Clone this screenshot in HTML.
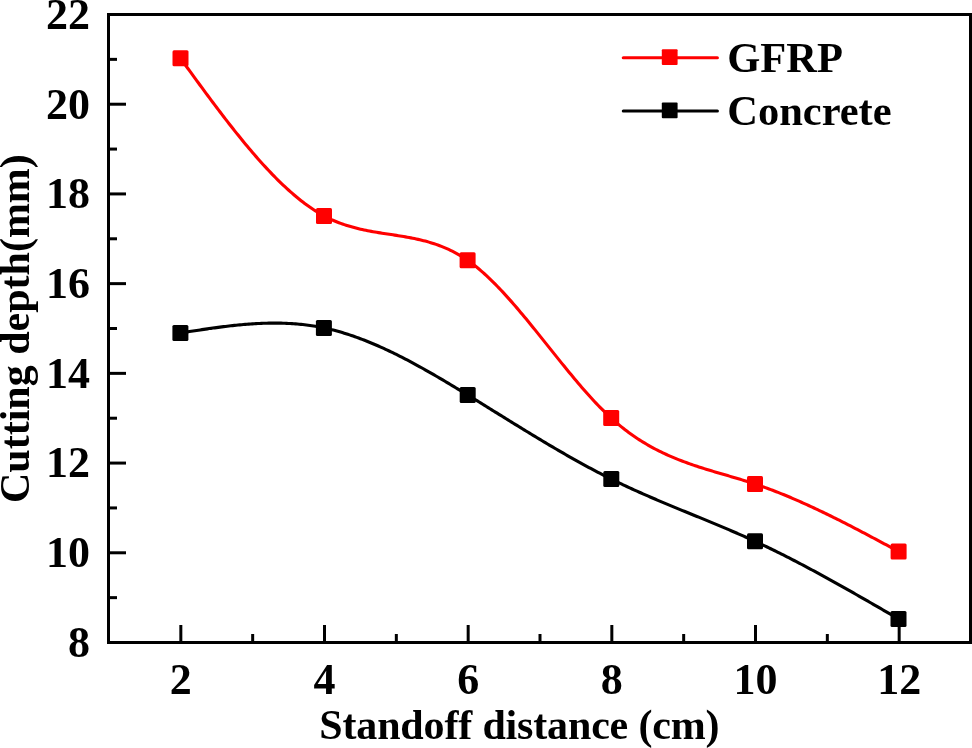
<!DOCTYPE html>
<html><head><meta charset="utf-8"><style>
html,body{margin:0;padding:0;background:#fff;}
body{width:972px;height:748px;overflow:hidden;}
svg{display:block;will-change:transform;}
text{font-family:"Liberation Serif",serif;font-weight:bold;fill:#000;}
</style></head><body>
<svg width="972" height="748" viewBox="0 0 972 748">
<rect x="0" y="0" width="972" height="748" fill="#fff"/>
<path d="M180.50,58.30 L182.30,60.78 L184.10,63.26 L185.90,65.74 L187.70,68.22 L189.50,70.70 L191.30,73.17 L193.10,75.64 L194.90,78.11 L196.70,80.57 L198.50,83.03 L200.30,85.49 L202.10,87.94 L203.90,90.38 L205.70,92.82 L207.50,95.25 L209.30,97.67 L211.10,100.09 L212.90,102.50 L214.70,104.90 L216.49,107.29 L218.29,109.67 L220.09,112.04 L221.89,114.40 L223.69,116.75 L225.49,119.09 L227.29,121.41 L229.09,123.73 L230.89,126.03 L232.69,128.32 L234.49,130.59 L236.29,132.85 L238.09,135.09 L239.89,137.32 L241.69,139.54 L243.49,141.74 L245.29,143.92 L247.09,146.08 L248.89,148.23 L250.69,150.36 L252.49,152.46 L254.29,154.56 L256.09,156.63 L257.89,158.68 L259.69,160.71 L261.49,162.72 L263.29,164.71 L265.09,166.67 L266.89,168.62 L268.69,170.54 L270.49,172.43 L272.29,174.31 L274.09,176.16 L275.89,177.98 L277.69,179.78 L279.49,181.56 L281.29,183.30 L283.09,185.03 L284.89,186.72 L286.69,188.39 L288.48,190.02 L290.28,191.63 L292.08,193.21 L293.88,194.77 L295.68,196.29 L297.48,197.78 L299.28,199.24 L301.08,200.67 L302.88,202.06 L304.68,203.43 L306.48,204.76 L308.28,206.05 L310.08,207.32 L311.88,208.55 L313.68,209.74 L315.48,210.90 L317.28,212.03 L319.08,213.12 L320.88,214.17 L322.68,215.18 L324.48,216.16 L326.28,217.10 L328.08,218.00 L329.88,218.86 L331.68,219.70 L333.48,220.49 L335.28,221.26 L337.08,222.00 L338.88,222.70 L340.68,223.37 L342.48,224.02 L344.28,224.64 L346.08,225.23 L347.88,225.80 L349.68,226.34 L351.48,226.86 L353.28,227.36 L355.08,227.84 L356.88,228.30 L358.68,228.74 L360.47,229.16 L362.27,229.56 L364.07,229.95 L365.87,230.32 L367.67,230.68 L369.47,231.03 L371.27,231.36 L373.07,231.68 L374.87,232.00 L376.67,232.30 L378.47,232.60 L380.27,232.89 L382.07,233.18 L383.87,233.46 L385.67,233.74 L387.47,234.02 L389.27,234.29 L391.07,234.57 L392.87,234.84 L394.67,235.12 L396.47,235.40 L398.27,235.68 L400.07,235.97 L401.87,236.27 L403.67,236.57 L405.47,236.88 L407.27,237.20 L409.07,237.53 L410.87,237.87 L412.67,238.22 L414.47,238.59 L416.27,238.97 L418.07,239.37 L419.87,239.78 L421.67,240.21 L423.47,240.66 L425.27,241.12 L427.07,241.61 L428.87,242.12 L430.67,242.65 L432.46,243.21 L434.26,243.79 L436.06,244.40 L437.86,245.03 L439.66,245.69 L441.46,246.38 L443.26,247.10 L445.06,247.85 L446.86,248.63 L448.66,249.45 L450.46,250.30 L452.26,251.19 L454.06,252.11 L455.86,253.06 L457.66,254.06 L459.46,255.10 L461.26,256.17 L463.06,257.29 L464.86,258.45 L466.66,259.65 L468.46,260.90 L470.26,262.19 L472.06,263.53 L473.86,264.91 L475.66,266.33 L477.46,267.79 L479.26,269.29 L481.06,270.83 L482.86,272.40 L484.66,274.01 L486.46,275.66 L488.26,277.34 L490.06,279.06 L491.86,280.81 L493.66,282.59 L495.46,284.40 L497.26,286.24 L499.06,288.11 L500.86,290.00 L502.66,291.92 L504.45,293.87 L506.25,295.84 L508.05,297.84 L509.85,299.86 L511.65,301.89 L513.45,303.95 L515.25,306.03 L517.05,308.13 L518.85,310.24 L520.65,312.38 L522.45,314.52 L524.25,316.68 L526.05,318.86 L527.85,321.04 L529.65,323.24 L531.45,325.45 L533.25,327.67 L535.05,329.89 L536.85,332.12 L538.65,334.36 L540.45,336.61 L542.25,338.86 L544.05,341.11 L545.85,343.37 L547.65,345.62 L549.45,347.88 L551.25,350.13 L553.05,352.39 L554.85,354.64 L556.65,356.89 L558.45,359.13 L560.25,361.37 L562.05,363.60 L563.85,365.82 L565.65,368.03 L567.45,370.24 L569.25,372.43 L571.05,374.61 L572.85,376.78 L574.65,378.93 L576.44,381.07 L578.24,383.20 L580.04,385.31 L581.84,387.40 L583.64,389.47 L585.44,391.52 L587.24,393.55 L589.04,395.56 L590.84,397.54 L592.64,399.50 L594.44,401.44 L596.24,403.35 L598.04,405.24 L599.84,407.09 L601.64,408.92 L603.44,410.72 L605.24,412.48 L607.04,414.22 L608.84,415.92 L610.64,417.59 L612.44,419.22 L614.24,420.82 L616.04,422.38 L617.84,423.91 L619.64,425.41 L621.44,426.88 L623.24,428.31 L625.04,429.71 L626.84,431.08 L628.64,432.42 L630.44,433.73 L632.24,435.01 L634.04,436.26 L635.84,437.49 L637.64,438.68 L639.44,439.85 L641.24,441.00 L643.04,442.11 L644.84,443.20 L646.64,444.27 L648.43,445.31 L650.23,446.33 L652.03,447.33 L653.83,448.30 L655.63,449.25 L657.43,450.18 L659.23,451.09 L661.03,451.98 L662.83,452.85 L664.63,453.69 L666.43,454.52 L668.23,455.34 L670.03,456.13 L671.83,456.91 L673.63,457.67 L675.43,458.42 L677.23,459.14 L679.03,459.86 L680.83,460.56 L682.63,461.25 L684.43,461.92 L686.23,462.58 L688.03,463.23 L689.83,463.87 L691.63,464.50 L693.43,465.11 L695.23,465.72 L697.03,466.32 L698.83,466.91 L700.63,467.49 L702.43,468.06 L704.23,468.63 L706.03,469.18 L707.83,469.74 L709.63,470.29 L711.43,470.83 L713.23,471.37 L715.03,471.90 L716.83,472.44 L718.63,472.97 L720.42,473.49 L722.22,474.02 L724.02,474.55 L725.82,475.07 L727.62,475.60 L729.42,476.12 L731.22,476.65 L733.02,477.18 L734.82,477.71 L736.62,478.24 L738.42,478.78 L740.22,479.32 L742.02,479.87 L743.82,480.42 L745.62,480.98 L747.42,481.54 L749.22,482.11 L751.02,482.69 L752.82,483.28 L754.62,483.87 L756.42,484.48 L758.22,485.09 L760.02,485.71 L761.82,486.34 L763.62,486.98 L765.42,487.63 L767.22,488.29 L769.02,488.95 L770.82,489.63 L772.62,490.31 L774.42,491.00 L776.22,491.69 L778.02,492.40 L779.82,493.11 L781.62,493.83 L783.42,494.56 L785.22,495.30 L787.02,496.04 L788.82,496.79 L790.62,497.55 L792.41,498.31 L794.21,499.08 L796.01,499.86 L797.81,500.65 L799.61,501.44 L801.41,502.23 L803.21,503.04 L805.01,503.85 L806.81,504.66 L808.61,505.48 L810.41,506.31 L812.21,507.14 L814.01,507.98 L815.81,508.82 L817.61,509.67 L819.41,510.53 L821.21,511.39 L823.01,512.25 L824.81,513.12 L826.61,513.99 L828.41,514.87 L830.21,515.76 L832.01,516.64 L833.81,517.53 L835.61,518.43 L837.41,519.33 L839.21,520.23 L841.01,521.14 L842.81,522.05 L844.61,522.97 L846.41,523.89 L848.21,524.81 L850.01,525.73 L851.81,526.66 L853.61,527.59 L855.41,528.52 L857.21,529.46 L859.01,530.40 L860.81,531.34 L862.61,532.29 L864.40,533.23 L866.20,534.18 L868.00,535.13 L869.80,536.08 L871.60,537.04 L873.40,538.00 L875.20,538.95 L877.00,539.91 L878.80,540.87 L880.60,541.84 L882.40,542.80 L884.20,543.76 L886.00,544.73 L887.80,545.69 L889.60,546.66 L891.40,547.63 L893.20,548.60 L895.00,549.56 L896.80,550.53 L898.60,551.50" fill="none" stroke="#ff0000" stroke-width="3.1" stroke-linejoin="round" stroke-linecap="round"/>
<path d="M180.40,333.00 L182.20,332.72 L184.00,332.43 L185.80,332.15 L187.60,331.86 L189.40,331.58 L191.20,331.30 L193.00,331.02 L194.80,330.74 L196.60,330.47 L198.40,330.19 L200.20,329.92 L202.00,329.65 L203.80,329.38 L205.60,329.11 L207.40,328.85 L209.20,328.59 L211.00,328.34 L212.80,328.08 L214.60,327.84 L216.39,327.59 L218.19,327.35 L219.99,327.11 L221.79,326.88 L223.59,326.66 L225.39,326.43 L227.19,326.22 L228.99,326.01 L230.79,325.80 L232.59,325.60 L234.39,325.41 L236.19,325.22 L237.99,325.04 L239.79,324.86 L241.59,324.70 L243.39,324.53 L245.19,324.38 L246.99,324.24 L248.79,324.10 L250.59,323.97 L252.39,323.85 L254.19,323.73 L255.99,323.63 L257.79,323.53 L259.59,323.44 L261.39,323.36 L263.19,323.29 L264.99,323.24 L266.79,323.19 L268.59,323.15 L270.39,323.12 L272.19,323.10 L273.99,323.09 L275.79,323.09 L277.59,323.10 L279.39,323.13 L281.19,323.16 L282.99,323.21 L284.79,323.27 L286.59,323.34 L288.38,323.43 L290.18,323.52 L291.98,323.63 L293.78,323.75 L295.58,323.89 L297.38,324.04 L299.18,324.20 L300.98,324.38 L302.78,324.56 L304.58,324.77 L306.38,324.99 L308.18,325.22 L309.98,325.47 L311.78,325.73 L313.58,326.01 L315.38,326.30 L317.18,326.61 L318.98,326.93 L320.78,327.27 L322.58,327.63 L324.38,328.00 L326.18,328.39 L327.98,328.80 L329.78,329.22 L331.58,329.66 L333.38,330.11 L335.18,330.58 L336.98,331.06 L338.78,331.56 L340.58,332.08 L342.38,332.61 L344.18,333.15 L345.98,333.71 L347.78,334.29 L349.58,334.87 L351.38,335.47 L353.18,336.09 L354.98,336.72 L356.78,337.36 L358.58,338.01 L360.37,338.68 L362.17,339.36 L363.97,340.06 L365.77,340.76 L367.57,341.48 L369.37,342.21 L371.17,342.95 L372.97,343.70 L374.77,344.47 L376.57,345.25 L378.37,346.03 L380.17,346.83 L381.97,347.64 L383.77,348.46 L385.57,349.29 L387.37,350.13 L389.17,350.98 L390.97,351.84 L392.77,352.71 L394.57,353.59 L396.37,354.48 L398.17,355.37 L399.97,356.28 L401.77,357.19 L403.57,358.12 L405.37,359.05 L407.17,359.99 L408.97,360.93 L410.77,361.89 L412.57,362.85 L414.37,363.82 L416.17,364.80 L417.97,365.78 L419.77,366.77 L421.57,367.77 L423.37,368.77 L425.17,369.78 L426.97,370.80 L428.77,371.82 L430.57,372.85 L432.36,373.88 L434.16,374.92 L435.96,375.97 L437.76,377.01 L439.56,378.07 L441.36,379.12 L443.16,380.19 L444.96,381.25 L446.76,382.32 L448.56,383.40 L450.36,384.47 L452.16,385.55 L453.96,386.64 L455.76,387.73 L457.56,388.82 L459.36,389.91 L461.16,391.00 L462.96,392.10 L464.76,393.20 L466.56,394.30 L468.36,395.40 L470.16,396.51 L471.96,397.62 L473.76,398.72 L475.56,399.83 L477.36,400.94 L479.16,402.05 L480.96,403.16 L482.76,404.28 L484.56,405.39 L486.36,406.50 L488.16,407.62 L489.96,408.73 L491.76,409.85 L493.56,410.96 L495.36,412.08 L497.16,413.19 L498.96,414.31 L500.76,415.42 L502.56,416.54 L504.35,417.65 L506.15,418.77 L507.95,419.88 L509.75,420.99 L511.55,422.10 L513.35,423.21 L515.15,424.32 L516.95,425.43 L518.75,426.54 L520.55,427.64 L522.35,428.75 L524.15,429.85 L525.95,430.95 L527.75,432.05 L529.55,433.14 L531.35,434.24 L533.15,435.33 L534.95,436.42 L536.75,437.51 L538.55,438.59 L540.35,439.67 L542.15,440.75 L543.95,441.83 L545.75,442.90 L547.55,443.98 L549.35,445.04 L551.15,446.11 L552.95,447.17 L554.75,448.23 L556.55,449.28 L558.35,450.33 L560.15,451.38 L561.95,452.42 L563.75,453.46 L565.55,454.50 L567.35,455.53 L569.15,456.55 L570.95,457.57 L572.75,458.59 L574.55,459.60 L576.34,460.61 L578.14,461.62 L579.94,462.61 L581.74,463.61 L583.54,464.59 L585.34,465.58 L587.14,466.55 L588.94,467.53 L590.74,468.49 L592.54,469.45 L594.34,470.41 L596.14,471.36 L597.94,472.30 L599.74,473.24 L601.54,474.17 L603.34,475.09 L605.14,476.01 L606.94,476.92 L608.74,477.83 L610.54,478.72 L612.34,479.61 L614.14,480.50 L615.94,481.38 L617.74,482.25 L619.54,483.11 L621.34,483.97 L623.14,484.82 L624.94,485.67 L626.74,486.51 L628.54,487.34 L630.34,488.17 L632.14,489.00 L633.94,489.82 L635.74,490.63 L637.54,491.44 L639.34,492.24 L641.14,493.04 L642.94,493.84 L644.74,494.63 L646.54,495.42 L648.33,496.20 L650.13,496.98 L651.93,497.76 L653.73,498.53 L655.53,499.30 L657.33,500.07 L659.13,500.83 L660.93,501.59 L662.73,502.35 L664.53,503.11 L666.33,503.86 L668.13,504.61 L669.93,505.36 L671.73,506.11 L673.53,506.85 L675.33,507.60 L677.13,508.34 L678.93,509.08 L680.73,509.82 L682.53,510.56 L684.33,511.29 L686.13,512.03 L687.93,512.77 L689.73,513.51 L691.53,514.24 L693.33,514.98 L695.13,515.71 L696.93,516.45 L698.73,517.19 L700.53,517.93 L702.33,518.66 L704.13,519.40 L705.93,520.14 L707.73,520.88 L709.53,521.63 L711.33,522.37 L713.13,523.12 L714.93,523.86 L716.73,524.61 L718.53,525.37 L720.32,526.12 L722.12,526.88 L723.92,527.63 L725.72,528.40 L727.52,529.16 L729.32,529.93 L731.12,530.70 L732.92,531.47 L734.72,532.25 L736.52,533.03 L738.32,533.82 L740.12,534.61 L741.92,535.40 L743.72,536.20 L745.52,537.00 L747.32,537.80 L749.12,538.62 L750.92,539.43 L752.72,540.25 L754.52,541.08 L756.32,541.91 L758.12,542.75 L759.92,543.59 L761.72,544.44 L763.52,545.29 L765.32,546.15 L767.12,547.01 L768.92,547.88 L770.72,548.75 L772.52,549.63 L774.32,550.51 L776.12,551.39 L777.92,552.28 L779.72,553.18 L781.52,554.08 L783.32,554.98 L785.12,555.89 L786.92,556.81 L788.72,557.72 L790.52,558.64 L792.31,559.57 L794.11,560.50 L795.91,561.43 L797.71,562.37 L799.51,563.31 L801.31,564.25 L803.11,565.20 L804.91,566.15 L806.71,567.11 L808.51,568.07 L810.31,569.03 L812.11,570.00 L813.91,570.96 L815.71,571.94 L817.51,572.91 L819.31,573.89 L821.11,574.87 L822.91,575.85 L824.71,576.84 L826.51,577.83 L828.31,578.82 L830.11,579.82 L831.91,580.81 L833.71,581.81 L835.51,582.82 L837.31,583.82 L839.11,584.83 L840.91,585.84 L842.71,586.85 L844.51,587.86 L846.31,588.88 L848.11,589.89 L849.91,590.91 L851.71,591.93 L853.51,592.96 L855.31,593.98 L857.11,595.01 L858.91,596.04 L860.71,597.06 L862.51,598.09 L864.30,599.13 L866.10,600.16 L867.90,601.19 L869.70,602.23 L871.50,603.27 L873.30,604.30 L875.10,605.34 L876.90,606.38 L878.70,607.42 L880.50,608.46 L882.30,609.51 L884.10,610.55 L885.90,611.59 L887.70,612.63 L889.50,613.68 L891.30,614.72 L893.10,615.77 L894.90,616.81 L896.70,617.86 L898.50,618.90" fill="none" stroke="#000" stroke-width="3.1" stroke-linejoin="round" stroke-linecap="round"/>
<rect x="172.50" y="50.30" width="16" height="16" rx="1.5" fill="#ff0000"/><rect x="316.00" y="207.90" width="16" height="16" rx="1.5" fill="#ff0000"/><rect x="459.60" y="252.30" width="16" height="16" rx="1.5" fill="#ff0000"/><rect x="603.20" y="410.10" width="16" height="16" rx="1.5" fill="#ff0000"/><rect x="747.00" y="476.00" width="16" height="16" rx="1.5" fill="#ff0000"/><rect x="890.60" y="543.50" width="16" height="16" rx="1.5" fill="#ff0000"/>
<rect x="172.40" y="325.00" width="16" height="16" rx="1.5" fill="#000"/><rect x="315.90" y="319.90" width="16" height="16" rx="1.5" fill="#000"/><rect x="459.70" y="387.00" width="16" height="16" rx="1.5" fill="#000"/><rect x="603.30" y="471.10" width="16" height="16" rx="1.5" fill="#000"/><rect x="747.00" y="533.30" width="16" height="16" rx="1.5" fill="#000"/><rect x="890.50" y="610.90" width="16" height="16" rx="1.5" fill="#000"/>
<g stroke="#000" stroke-width="3" stroke-linecap="butt"><line x1="180.83" y1="641" x2="180.83" y2="625" /><line x1="324.50" y1="641" x2="324.50" y2="625" /><line x1="468.17" y1="641" x2="468.17" y2="625" /><line x1="611.83" y1="641" x2="611.83" y2="625" /><line x1="755.50" y1="641" x2="755.50" y2="625" /><line x1="899.17" y1="641" x2="899.17" y2="625" /><line x1="252.67" y1="641" x2="252.67" y2="634" /><line x1="396.33" y1="641" x2="396.33" y2="634" /><line x1="540.00" y1="641" x2="540.00" y2="634" /><line x1="683.67" y1="641" x2="683.67" y2="634" /><line x1="827.33" y1="641" x2="827.33" y2="634" /><line x1="110" y1="552.79" x2="126" y2="552.79" /><line x1="110" y1="463.07" x2="126" y2="463.07" /><line x1="110" y1="373.36" x2="126" y2="373.36" /><line x1="110" y1="283.64" x2="126" y2="283.64" /><line x1="110" y1="193.93" x2="126" y2="193.93" /><line x1="110" y1="104.21" x2="126" y2="104.21" /><line x1="110" y1="597.64" x2="117" y2="597.64" /><line x1="110" y1="507.93" x2="117" y2="507.93" /><line x1="110" y1="418.21" x2="117" y2="418.21" /><line x1="110" y1="328.50" x2="117" y2="328.50" /><line x1="110" y1="238.79" x2="117" y2="238.79" /><line x1="110" y1="149.07" x2="117" y2="149.07" /><line x1="110" y1="59.36" x2="117" y2="59.36" /></g>
<rect x="108.5" y="14.5" width="862" height="628" fill="none" stroke="#000" stroke-width="3"/>
<g font-size="44"><text x="90" y="656.80" text-anchor="end">8</text><text x="90" y="567.09" text-anchor="end">10</text><text x="90" y="477.37" text-anchor="end">12</text><text x="90" y="387.66" text-anchor="end">14</text><text x="90" y="297.94" text-anchor="end">16</text><text x="90" y="208.23" text-anchor="end">18</text><text x="90" y="118.51" text-anchor="end">20</text><text x="90" y="28.80" text-anchor="end">22</text><text x="180.83" y="694" text-anchor="middle">2</text><text x="324.50" y="694" text-anchor="middle">4</text><text x="468.17" y="694" text-anchor="middle">6</text><text x="611.83" y="694" text-anchor="middle">8</text><text x="755.50" y="694" text-anchor="middle">10</text><text x="899.17" y="694" text-anchor="middle">12</text></g>
<text x="319.3" y="738.5" font-size="42" textLength="400.3" lengthAdjust="spacing">Standoff distance (cm)</text>
<text transform="translate(29,503) rotate(-90)" font-size="42">Cutting depth(mm)</text>
<g stroke-width="3.1" stroke-linecap="round">
<line x1="623.3" y1="57.8" x2="717.4" y2="57.8" stroke="#ff0000"/>
<line x1="623.3" y1="111" x2="717.4" y2="111" stroke="#000"/>
</g>
<rect x="661.8" y="49.3" width="15.8" height="15.6" rx="1" fill="#ff0000"/>
<rect x="661.8" y="102.5" width="15.8" height="15.8" rx="1" fill="#000"/>
<text x="727.2" y="72" font-size="42.5">GFRP</text>
<text x="727.2" y="125.2" font-size="42.5">Concrete</text>
</svg>
</body></html>
